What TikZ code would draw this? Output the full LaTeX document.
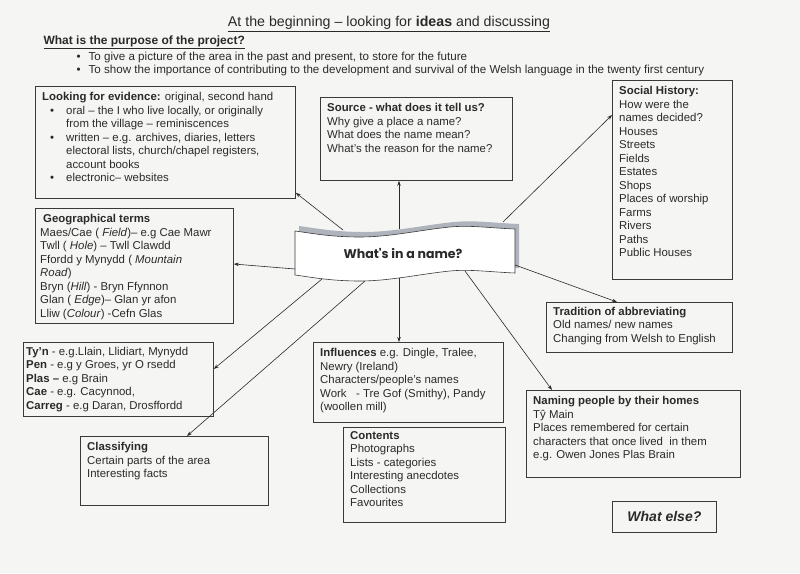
\documentclass[tikz,border=0pt]{standalone}
\usepackage{fontspec}
\setmainfont{Liberation Sans}
\newfontfamily\bannerfont{Poppins}
\usetikzlibrary{arrows.meta, positioning, calc}
\definecolor{paper}{HTML}{F5F6F4}
\definecolor{ink}{HTML}{2A2A2A}
\definecolor{frame}{HTML}{3A3A3A}
\definecolor{fold}{HTML}{AEB3BC}
\tikzset{
  panel/.style={draw=frame, line width=0.8pt, anchor=north west, inner sep=0pt},
  paneltext/.style={anchor=north west, inner xsep=7pt, inner ysep=6.5pt, align=left},
  link/.style={draw=ink, line width=0.6pt, -{Stealth[length=5pt, width=3.5pt]}},
}

\begin{document}
\begin{tikzpicture}[x=1pt, y=-1pt, font=\fontsize{11.4}{13.5}\selectfont, text=ink]
  \useasboundingbox[fill=paper] (0,0) rectangle (800,573);

  \node[font=\fontsize{14.2}{16}\selectfont] (title) at (389,24)
    {\underline{At the beginning – looking for \textbf{ideas} and discussing}};
  \node[anchor=west, font=\bfseries\fontsize{12}{14}\selectfont] (purpose) at (40,42)
    {\underline{What is the purpose of the project?}};
  \foreach \aim [count=\row from 1] in
    {{To give a picture of the area in the past and present, to store for the future},
     {To show the importance of contributing to the development and survival of the Welsh language in the twenty first century}}{%
    \node[anchor=west, font=\fontsize{11.6}{13}\selectfont] (aim\row) at (73,{44+13*\row})
      {\textbullet\hspace{8pt}\aim};}

  \path[fill=fold, shift={(4,-5)}] (295,231) .. controls (310,233) and (330,237) .. (360,237)
    .. controls (390,237) and (420,230) .. (450,227) .. controls (470,225) and (490,228) .. (515,229)
    -- (515,273) .. controls (490,272) and (470,269) .. (450,271)
    .. controls (420,274) and (390,281) .. (360,281) .. controls (330,281) and (310,277) .. (295,275) -- cycle;
  \path[draw=frame, fill=white, line width=0.6pt] (295,231) .. controls (310,233) and (330,237) .. (360,237)
    .. controls (390,237) and (420,230) .. (450,227) .. controls (470,225) and (490,228) .. (515,229)
    -- (515,273) .. controls (490,272) and (470,269) .. (450,271)
    .. controls (420,274) and (390,281) .. (360,281) .. controls (330,281) and (310,277) .. (295,275) -- cycle;
  \node[font=\bannerfont\bfseries\fontsize{12.6}{14}\selectfont] (centre) at (403,253) {What's in a name?};
  \coordinate (bnEvid) at (343,230);
  \coordinate (bnSrc) at (399,229);
  \coordinate (bnSoc) at (503,222);
  \coordinate (bnGeo) at (295,269);
  \coordinate (bnTyn) at (322,279);
  \coordinate (bnCls) at (365,281);
  \coordinate (bnInf) at (399,278);
  \coordinate (bnNam) at (465,271);
  \coordinate (bnTrd) at (515,265);

  \node[panel, minimum width=260, minimum height=112] (evidence) at (35,86) {};
  \node[paneltext] (evidencetext) at (evidence.north west)
    {\textbf{Looking for evidence:} original, second hand\\
     \hspace*{8pt}\makebox[16pt][l]{\textbullet}oral – the I who live locally, or originally\\
     \hspace*{24pt}from the village – reminiscences\\
     \hspace*{8pt}\makebox[16pt][l]{\textbullet}written – e.g. archives, diaries, letters\\
     \hspace*{24pt}electoral lists, church/chapel registers,\\
     \hspace*{24pt}account books\\
     \hspace*{8pt}\makebox[16pt][l]{\textbullet}electronic– websites};

  \node[panel, minimum width=192, minimum height=83] (source) at (320,97) {};
  \node[paneltext] (sourcetext) at (source.north west)
    {\textbf{Source - what does it tell us?}\\
     Why give a place a name?\\
     What does the name mean?\\
     What's the reason for the name?};

  \node[panel, minimum width=120, minimum height=199] (social) at (612,80) {};
  \node[paneltext] (socialtext) at (social.north west)
    {\textbf{Social History:}\\ How were the\\ names decided?\\ Houses\\ Streets\\ Fields\\ Estates\\
     Shops\\ Places of worship\\ Farms\\ Rivers\\ Paths\\ Public Houses};

  \node[panel, minimum width=198, minimum height=115] (geo) at (35,208) {};
  \node[paneltext, inner xsep=5pt] (geotext) at (geo.north west)
    {\hspace*{3pt}\textbf{Geographical terms}\\
     Maes/Cae ( \textit{Field})– e.g Cae Mawr\\
     Twll ( \textit{Hole}) – Twll Clawdd\\
     Ffordd y Mynydd ( \textit{Mountain}\\
     \textit{Road})\\
     Bryn (\textit{Hill}) - Bryn Ffynnon\\
     Glan ( \textit{Edge})– Glan yr afon\\
     Lliw (\textit{Colour}) -Cefn Glas};

  \node[panel, minimum width=186, minimum height=50] (tradition) at (546,302) {};
  \node[paneltext, inner ysep=5pt] (traditiontext) at (tradition.north west)
    {\textbf{Tradition of abbreviating}\\ Old names/ new names\\ Changing from Welsh to English};

  \node[panel, minimum width=190, minimum height=74] (tyn) at (23,342) {};
  \node[paneltext, inner xsep=3pt, inner ysep=5pt] (tyntext) at (tyn.north west)
    {\textbf{Ty'n} -  e.g.Llain, Llidiart, Mynydd\\
     \textbf{Pen} - e.g y Groes,  yr O rsedd\\
     \textbf{Plas –} e.g  Brain\\
     \textbf{Cae} - e.g. Cacynnod,\\
     \textbf{Carreg} - e.g  Daran, Drosffordd};

  \node[panel, minimum width=190, minimum height=80] (influences) at (313,342) {};
  \node[paneltext] (influencestext) at (influences.north west)
    {\textbf{Influences} e.g. Dingle, Tralee,\\ Newry (Ireland)\\ Characters/people's names\\
     Work \ \ - Tre Gof (Smithy), Pandy\\ (woollen mill)};

  \node[panel, minimum width=214, minimum height=87] (naming) at (526,390) {};
  \node[paneltext] (namingtext) at (naming.north west)
    {\textbf{Naming people by their homes}\\ Tŷ Main\\ Places remembered for certain\\
     characters that once lived \ in them\\ e.g. Owen Jones Plas Brain};

  \node[panel, minimum width=162, minimum height=95] (contents) at (343,427) {};
  \node[paneltext, inner ysep=4pt] (contentstext) at (contents.north west)
    {\textbf{Contents}\\ Photographs\\ Lists - categories\\ Interesting anecdotes\\ Collections\\ Favourites};

  \node[panel, minimum width=188, minimum height=69] (classify) at (80,436) {};
  \node[paneltext] (classifytext) at (classify.north west)
    {\textbf{Classifying}\\ Certain parts of the area\\ Interesting facts};

  \node[panel, minimum width=104, minimum height=31] (whatelse) at (612,501) {};
  \node[font=\bfseries\itshape\fontsize{14}{16}\selectfont] (whatelsetext) at (whatelse.center) {What else?};

  \draw[link] (bnEvid) -- ($(evidence.south east)+(0,-6)$);
  \draw[link] (bnSrc) -- ($(source.south west)+(79,0)$);
  \draw[link] (bnSoc) -- ($(social.north west)+(0,35)$);
  \draw[link] (bnGeo) -- ($(geo.north east)+(0,56)$);
  \draw[link] (bnTyn) -- ($(tyn.north east)+(0,27)$);
  \draw[link] (bnCls) -- ($(classify.north west)+(107,0)$);
  \draw[link] (bnInf) -- ($(influences.north west)+(86,0)$);
  \draw[link] (bnNam) -- ($(naming.north west)+(26,0)$);
  \draw[link] (bnTrd) -- ($(tradition.north west)+(71,0)$);
\end{tikzpicture}
\end{document}
